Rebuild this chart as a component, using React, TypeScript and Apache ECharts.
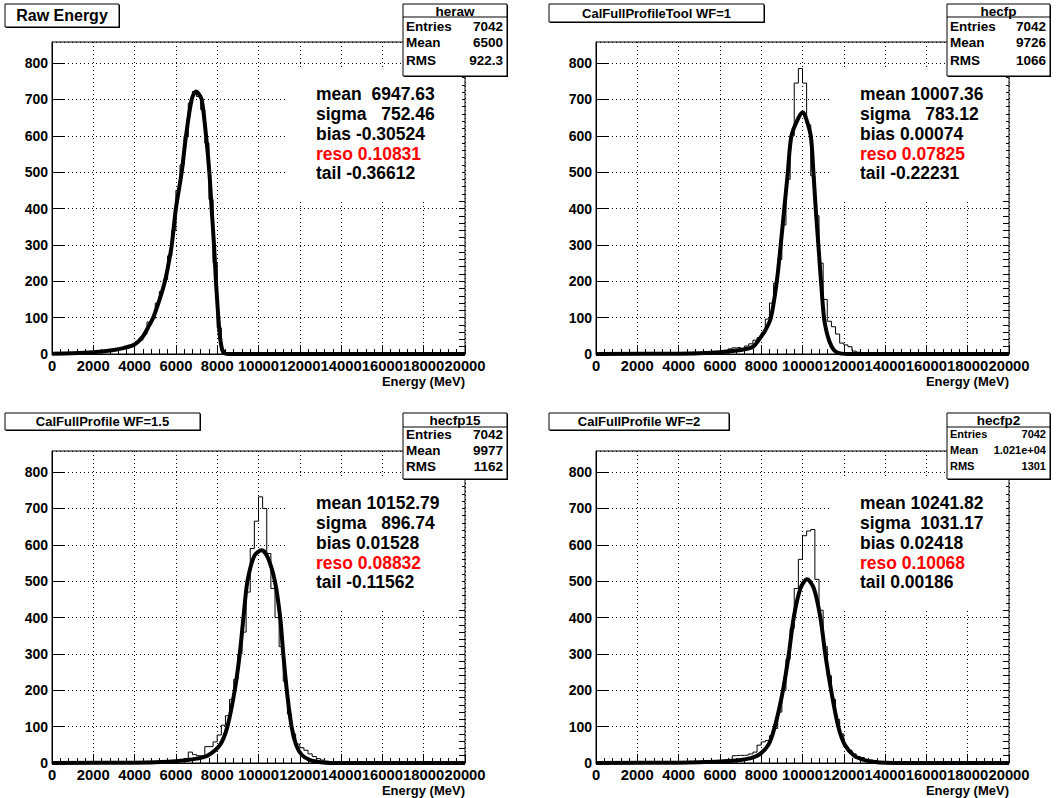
import React, { useEffect, useRef } from "react";
import * as echarts from "echarts";

const BIN_WIDTH = 200; // MeV per bin
const X_MAX = 20000;
const Y_MAX = 858;

const titles = ["Raw Energy", "CalFullProfileTool WF=1", "CalFullProfile WF=1.5", "CalFullProfile WF=2"];
const histNames = ["heraw", "hecfp", "hecfp15", "hecfp2"];
const entries = ["7042", "7042", "7042", "7042"];
const means = ["6500", "9726", "9977", "1.021e+04"];
const rmsValues = ["922.3", "1066", "1162", "1301"];
const fitMean = ["6947.63", "10007.36", "10152.79", "10241.82"];
const fitSigma = ["752.46", "783.12", "896.74", "1031.17"];
const fitBias = ["-0.30524", "0.00074", "0.01528", "0.02418"];
const fitReso = ["0.10831", "0.07825", "0.08832", "0.10068"];
const fitTail = ["-0.36612", "-0.22231", "-0.11562", "0.00186"];

// histogram bin contents, 100 bins of 200 MeV from 0 to 20000
const histRaw = [
  1, 1, 1, 2, 2, 2, 3, 3, 4, 4,
  5, 6, 7, 9, 10, 12, 14, 17, 20, 24,
  30, 38, 55, 88, 98, 140, 172, 205, 270, 340,
  450, 520, 600, 690, 722, 708, 672, 580, 425, 250,
  72, 10, 1, 0, 0, 0, 0, 0, 0, 0,
  0, 0, 0, 0, 0, 0, 0, 0, 0, 0,
  0, 0, 0, 0, 0, 0, 0, 0, 0, 0,
  0, 0, 0, 0, 0, 0, 0, 0, 0, 0,
  0, 0, 0, 0, 0, 0, 0, 0, 0, 0,
  0, 0, 0, 0, 0, 0, 0, 0, 0, 0,
];
const histCfp = [
  0, 0, 0, 0, 0, 0, 0, 0, 0, 0,
  1, 0, 1, 1, 0, 1, 1, 1, 2, 1,
  2, 2, 1, 3, 3, 2, 4, 3, 5, 4,
  6, 5, 14, 17, 18, 13, 22, 28, 38, 45,
  58, 96, 140, 195, 260, 355, 480, 600, 745, 785,
  745, 630, 490, 380, 250, 150, 90, 75, 55, 30,
  25, 20, 8, 5, 3, 2, 1, 1, 0, 0,
  0, 0, 0, 0, 0, 0, 0, 0, 0, 0,
  0, 0, 0, 0, 0, 0, 0, 0, 0, 0,
  0, 0, 0, 0, 0, 0, 0, 0, 0, 0,
];
const histCfp15 = [
  0, 0, 0, 0, 0, 0, 0, 0, 0, 0,
  0, 0, 1, 0, 1, 1, 1, 1, 2, 1,
  2, 2, 2, 3, 3, 4, 4, 5, 6, 7,
  8, 10, 12, 30, 23, 20, 20, 45, 45, 58,
  77, 104, 130, 175, 230, 300, 360, 470, 590, 665,
  732, 700, 576, 480, 400, 320, 225, 135, 80, 52,
  42, 35, 25, 18, 12, 8, 5, 3, 2, 1,
  0, 0, 0, 0, 0, 0, 0, 0, 0, 0,
  0, 0, 0, 0, 0, 0, 0, 0, 0, 0,
  0, 0, 0, 0, 0, 0, 0, 0, 0, 0,
];
const histCfp2 = [
  0, 0, 0, 0, 0, 0, 0, 0, 0, 0,
  0, 0, 1, 0, 1, 1, 1, 1, 1, 2,
  2, 2, 2, 3, 3, 3, 4, 4, 5, 5,
  6, 8, 10, 20, 21, 21, 22, 25, 30, 49,
  58, 62, 75, 95, 140, 200, 285, 370, 480, 560,
  625, 638, 642, 505, 420, 320, 240, 175, 120, 80,
  45, 35, 25, 18, 15, 10, 8, 6, 4, 3,
  2, 2, 1, 1, 1, 0, 0, 0, 0, 0,
  0, 0, 0, 0, 0, 0, 0, 0, 0, 0,
  0, 0, 0, 0, 0, 0, 0, 0, 0, 0,
];

// fitted curves: [energy, value]
const fitRaw = [
  [0, 1], [1000, 2], [2000, 5], [3000, 11], [3500, 17], [4000, 26], [4400, 48], [4700, 78],
  [4900, 100], [5200, 148], [5470, 200], [5650, 250], [5800, 300], [6000, 400], [6280, 500],
  [6490, 600], [6765, 700], [6980, 722], [7100, 716], [7250, 700], [7460, 600], [7620, 500],
  [7730, 400], [7845, 300], [7940, 200], [8055, 100], [8150, 40], [8250, 10], [8350, 2],
  [8600, 0], [20000, 0],
];
const fitCfp = [
  [0, 0], [4000, 1], [5000, 2], [6000, 5], [7000, 11], [7600, 20], [8000, 48], [8200, 65],
  [8472, 100], [8756, 200], [8945, 300], [9118, 400], [9290, 500], [9465, 600], [9810, 650],
  [10020, 665], [10160, 650], [10400, 600], [10528, 500], [10640, 400], [10768, 300],
  [10896, 200], [11040, 100], [11170, 60], [11300, 35], [11480, 14], [11650, 5], [11900, 1],
  [12200, 0], [20000, 0],
];
const fitCfp15 = [
  [0, 0], [4000, 1], [5000, 2], [6000, 5], [7000, 12], [7520, 20], [8138, 50], [8494, 100],
  [8850, 200], [9093, 300], [9271, 400], [9466, 500], [9800, 570], [10162, 585], [10450, 565],
  [10793, 500], [11050, 400], [11200, 300], [11370, 200], [11600, 100], [11820, 50],
  [12100, 22], [12500, 8], [13000, 2], [13500, 0], [20000, 0],
];
const fitCfp2 = [
  [0, 0], [4000, 1], [5000, 2], [6000, 4], [7000, 8], [7810, 20], [8350, 50], [8660, 100],
  [9055, 200], [9339, 300], [9575, 400], [9900, 480], [10220, 505], [10550, 480], [10866, 400],
  [11102, 300], [11386, 200], [11732, 100], [12047, 50], [12500, 20], [13000, 8], [13500, 3],
  [14000, 1], [15000, 0], [20000, 0],
];

const hists = [histRaw, histCfp, histCfp15, histCfp2];
const fits = [fitRaw, fitCfp, fitCfp15, fitCfp2];

const FONT = '"Liberation Sans", Arial, Helvetica, sans-serif';

// layout (pixels)
const gridRects = [
  { left: 52, top: 42 },
  { left: 596, top: 42 },
  { left: 52, top: 451 },
  { left: 596, top: 451 },
];
const PLOT_W = 413;
const PLOT_H = 312;
const titleBoxes = [
  { x: 5, y: 4, w: 114, h: 23, fs: 16 },
  { x: 549, y: 4, w: 215, h: 18, fs: 13 },
  { x: 5, y: 413, w: 195, h: 17, fs: 13 },
  { x: 549, y: 413, w: 180, h: 17, fs: 13 },
];
const statBoxes = [
  { x: 403, y: 4, w: 104, h: 72, rows: [22, 38, 56], fs: 13.5 },
  { x: 947, y: 4, w: 103, h: 72, rows: [22, 38, 56], fs: 13.5 },
  { x: 403, y: 413, w: 104, h: 66, rows: [21, 37, 53], fs: 13.5 },
  { x: 947, y: 413, w: 103, h: 66, rows: [21, 37, 53], fs: 11 },
];

function buildOption() {
  const grid: any[] = [];
  const xAxis: any[] = [];
  const yAxis: any[] = [];
  const series: any[] = [];
  const graphic: any[] = [];

  for (let i = 0; i < 4; i++) {
    const g = gridRects[i];
    grid.push({
      left: g.left, top: g.top, width: PLOT_W, height: PLOT_H,
      show: true, borderColor: "#000", borderWidth: 1, backgroundColor: "transparent",
    });
    xAxis.push({
      gridIndex: i, type: "value", min: 0, max: X_MAX, interval: 2000,
      axisLine: { show: true, lineStyle: { color: "#000", width: 1 } },
      axisTick: { show: true, inside: true, length: 9, lineStyle: { color: "#000" } },
      minorTick: { show: true, splitNumber: 5, length: 5, lineStyle: { color: "#000" } },
      splitLine: { show: true, lineStyle: { color: "#000", width: 1, type: [1, 3] } },
      axisLabel: {
        color: "#000", fontSize: 14.8, fontWeight: "bold", fontFamily: FONT, margin: 4,
        showMinLabel: true, showMaxLabel: true, hideOverlap: false,
        formatter: (v: number) => String(v),
      },
    });
    yAxis.push({
      gridIndex: i, type: "value", min: 0, max: Y_MAX, interval: 100,
      axisLine: { show: true, lineStyle: { color: "#000", width: 1 } },
      axisTick: { show: true, inside: true, length: 12, lineStyle: { color: "#000" } },
      splitLine: { show: true, lineStyle: { color: "#000", width: 1, type: [1, 3] } },
      axisLabel: {
        color: "#000", fontSize: 14, fontWeight: "bold", fontFamily: FONT, margin: 4,
        showMaxLabel: false, formatter: (v: number) => String(v),
      },
    });
  }
  // secondary y axes for minor ticks (every 20 counts)
  for (let i = 0; i < 4; i++) {
    yAxis.push({
      gridIndex: i, type: "value", min: 0, max: Y_MAX, interval: 20,
      axisLine: { show: false },
      axisTick: { show: true, inside: true, length: 6, lineStyle: { color: "#000" } },
      splitLine: { show: false },
      axisLabel: { show: false },
    });
  }

  for (let i = 0; i < 4; i++) {
    const h = hists[i];
    const histData = h.map((v, k) => [k * BIN_WIDTH, v]);
    histData.push([X_MAX, h[h.length - 1]]);
    series.push({
      type: "line", xAxisIndex: i, yAxisIndex: i, data: histData, step: "end",
      symbol: "none", lineStyle: { color: "#000", width: 1 }, z: 3, silent: true,
    });
    series.push({
      type: "line", xAxisIndex: i, yAxisIndex: i, data: fits[i], smooth: 0.3,
      symbol: "none", lineStyle: { color: "#000", width: 4 }, z: 4, silent: true,
    });

    const ox = i % 2 ? 544 : 0;
    const oy = i >= 2 ? 409 : 0;

    // title box
    const t = titleBoxes[i];
    graphic.push({ type: "rect", z: 5, shape: { x: t.x + 1, y: t.y + 1, width: t.w, height: t.h }, style: { fill: "#000" } });
    graphic.push({ type: "rect", z: 6, shape: { x: t.x, y: t.y, width: t.w, height: t.h }, style: { fill: "#fff", stroke: "#000", lineWidth: 1 } });
    graphic.push({
      type: "text", z: 7, x: t.x + t.w / 2, y: t.y + t.h / 2,
      style: { text: titles[i], fill: "#000", font: `bold ${t.fs}px ${FONT}`, align: "center", verticalAlign: "middle" },
    });

    // stats box
    const s = statBoxes[i];
    const hdr = i >= 2 ? 14 : 13;
    graphic.push({ type: "rect", z: 5, shape: { x: s.x + 1, y: s.y + 1, width: s.w, height: s.h }, style: { fill: "#000" } });
    graphic.push({ type: "rect", z: 6, shape: { x: s.x, y: s.y, width: s.w, height: s.h }, style: { fill: "#fff", stroke: "#000", lineWidth: 1 } });
    graphic.push({ type: "line", z: 7, shape: { x1: s.x, y1: s.y + hdr, x2: s.x + s.w, y2: s.y + hdr }, style: { stroke: "#000", lineWidth: 1 } });
    graphic.push({
      type: "text", z: 7, x: s.x + s.w / 2, y: s.y + hdr / 2 + 0.5,
      style: { text: histNames[i], fill: "#000", font: `bold 13.5px ${FONT}`, align: "center", verticalAlign: "middle" },
    });
    const labels = ["Entries", "Mean", "RMS"];
    const vals = [entries[i], means[i], rmsValues[i]];
    for (let r = 0; r < 3; r++) {
      graphic.push({
        type: "text", z: 7, x: s.x + 3, y: s.y + s.rows[r],
        style: { text: labels[r], fill: "#000", font: `bold ${s.fs}px ${FONT}`, align: "left", verticalAlign: "middle" },
      });
      graphic.push({
        type: "text", z: 7, x: s.x + s.w - 4, y: s.y + s.rows[r],
        style: { text: vals[r], fill: "#000", font: `bold ${s.fs}px ${FONT}`, align: "right", verticalAlign: "middle" },
      });
    }

    // fit result box (white background hides the grid)
    graphic.push({ type: "rect", z: 1, shape: { x: 285 + ox, y: 70 + oy, width: 177, height: 130 }, style: { fill: "#fff" } });
    const lines = [
      { text: "mean " + fitMean[i].padStart(8, "\u00a0"), color: "#000" },
      { text: "sigma " + fitSigma[i].padStart(8, "\u00a0"), color: "#000" },
      { text: "bias " + fitBias[i], color: "#000" },
      { text: "reso " + fitReso[i], color: "#ff0000" },
      { text: "tail " + fitTail[i], color: "#000" },
    ];
    const ys = [94, 114, 134, 154, 173];
    lines.forEach((ln, k) => {
      graphic.push({
        type: "text", z: 7, x: 316 + ox, y: ys[k] + oy,
        style: { text: ln.text, fill: ln.color, font: `bold 17.5px ${FONT}`, align: "left", verticalAlign: "middle" },
      });
    });

    // x axis title
    graphic.push({
      type: "text", z: 7, x: 465 + ox, y: 381 + oy,
      style: { text: "Energy (MeV)", fill: "#000", font: `bold 13px ${FONT}`, align: "right", verticalAlign: "middle" },
    });
  }

  return { animation: false, backgroundColor: "#fff", grid, xAxis, yAxis, series, graphic };
}

export default function App() {
  const ref = useRef<HTMLDivElement>(null);
  useEffect(() => {
    if (!ref.current) return;
    const chart = echarts.init(ref.current, undefined, { renderer: "svg" });
    chart.setOption(buildOption() as any);
    return () => chart.dispose();
  }, []);
  return (
    <div
      ref={ref}
      style={{ position: "fixed", left: 0, top: 0, width: 1056, height: 798, background: "#fff" }}
    />
  );
}
